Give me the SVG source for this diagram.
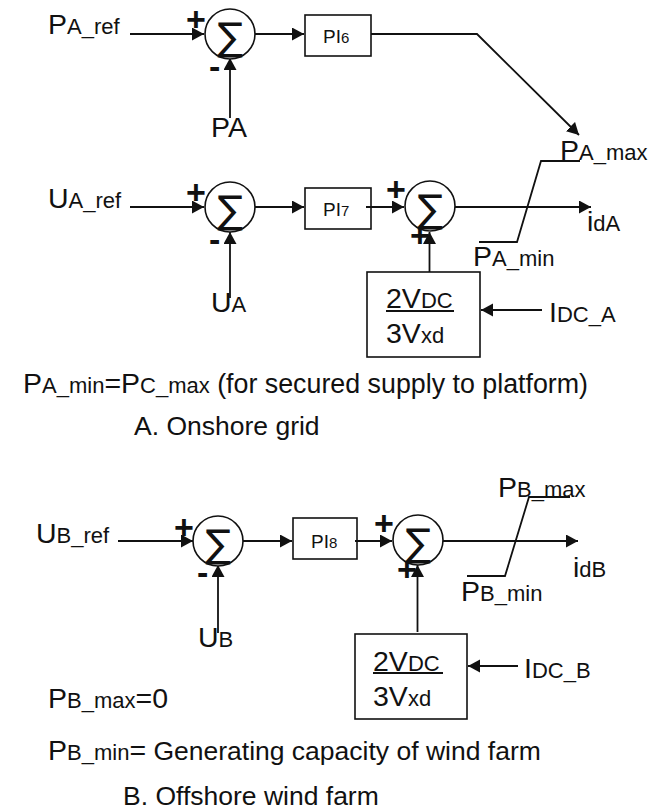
<svg xmlns="http://www.w3.org/2000/svg" width="658" height="811" viewBox="0 0 658 811">
<style>
text{font-family:"Liberation Sans",Arial,sans-serif;fill:#111}
.l{font-size:28.500px}.s{font-size:22px}.m{font-size:26.500px}.mm{font-size:26.800px}.pm{font-size:34px;font-weight:bold}
.sig{font-family:"DejaVu Sans",sans-serif;font-size:38px;text-anchor:middle}
.pi{font-size:19px}.sm{font-size:15px}
.c{fill:#fff;stroke:#111;stroke-width:1.6}
.b{fill:#fff;stroke:#111;stroke-width:1.6}
.w{fill:none;stroke:#111;stroke-width:1.8}
</style>
<defs>
<marker id="a" markerUnits="userSpaceOnUse" markerWidth="13" markerHeight="14" refX="12" refY="6.500" orient="auto"><path d="M0 0L12 6.500L0 13Z" fill="#111"/></marker>
</defs>
<g id="connectors">
<path class="w" marker-end="url(#a)" d="M130 34H204"/>
<path class="w" marker-end="url(#a)" d="M255 34H304"/>
<path class="w" marker-end="url(#a)" d="M230 118V58"/>
<path class="w" marker-end="url(#a)" d="M371 34H477L579 135"/>
<path class="w" marker-end="url(#a)" d="M130 207H204"/>
<path class="w" marker-end="url(#a)" d="M255 207H304"/>
<path class="w" marker-end="url(#a)" d="M230 298V232"/>
<path class="w" d="M479 242H517L541 161H580"/>
<path class="w" d="M467 576H505L529 497H570"/>
<path class="w" marker-end="url(#a)" d="M118 541H193"/>
<path class="w" marker-end="url(#a)" d="M243 541H292"/>
<path class="w" marker-end="url(#a)" d="M218 633V565"/>
</g>
<g id="sum1"><circle class="c" cx="230" cy="34" r="25"/><text class="sig" x="230" y="50">∑</text><text class="pm" x="186" y="31">+</text><text class="pm" x="209" y="78">-</text></g>
<g id="pi6"><rect class="b" x="305" y="15" width="66" height="41"/><text class="pi" x="323" y="43">PI<tspan class="sm">6</tspan></text></g>
<g id="sum2"><circle class="c" cx="230" cy="207" r="25"/><text class="sig" x="230" y="223">∑</text><text class="pm" x="186" y="204">+</text><text class="pm" x="209" y="251">-</text></g>
<g id="pi7"><rect class="b" x="305" y="188" width="66" height="41"/><text class="pi" x="323" y="216">PI<tspan class="sm">7</tspan></text></g>
<g id="sum3"><circle class="c" cx="430" cy="206" r="25"/><text class="sig" x="430" y="222">∑</text><text class="pm" x="386" y="201">+</text><text class="pm" x="410" y="247">+</text></g>
<g id="gainA"><rect class="b" x="367" y="272" width="113" height="85"/><text x="386" y="308"><tspan class="l">2V</tspan><tspan class="s">DC</tspan></text><path class="w" d="M386 311H454"/><text x="386" y="343"><tspan class="l">3V</tspan><tspan class="s">xd</tspan></text></g>
<g id="sum4"><circle class="c" cx="218" cy="541" r="25"/><text class="sig" x="218" y="557">∑</text><text class="pm" x="174" y="539">+</text><text class="pm" x="197" y="584">-</text></g>
<g id="pi8"><rect class="b" x="293" y="518" width="64" height="41"/><text class="pi" x="311" y="548">PI<tspan class="sm">8</tspan></text></g>
<g id="sum5"><circle class="c" cx="418" cy="540" r="25"/><text class="sig" x="418" y="556">∑</text><text class="pm" x="374" y="535">+</text><text class="pm" x="397" y="581">+</text></g>
<g id="gainB"><rect class="b" x="355" y="634" width="112" height="85"/><text x="373" y="671"><tspan class="l">2V</tspan><tspan class="s">DC</tspan></text><path class="w" d="M373 673H443"/><text x="373" y="706"><tspan class="l">3V</tspan><tspan class="s">xd</tspan></text></g>
<g id="connectors2">
<path class="w" marker-end="url(#a)" d="M366 207H404"/>
<path class="w" marker-end="url(#a)" d="M455 207H591"/>
<path class="w" marker-end="url(#a)" d="M429.500 272V232"/>
<path class="w" marker-end="url(#a)" d="M542 310H481"/>
<path class="w" marker-end="url(#a)" d="M355 541H392"/>
<path class="w" marker-end="url(#a)" d="M443 541H578"/>
<path class="w" marker-end="url(#a)" d="M417.500 632V565"/>
<path class="w" marker-end="url(#a)" d="M518 666H468"/>
</g>
<g id="labels">
<text x="48" y="34"><tspan class="l">P</tspan><tspan class="s">A_ref</tspan></text>
<text x="211" y="137" class="l">PA</text>
<text x="48" y="208"><tspan class="l">U</tspan><tspan class="s">A_ref</tspan></text>
<text x="211" y="312"><tspan class="l">U</tspan><tspan class="s">A</tspan></text>
<text x="560" y="160"><tspan class="l">P</tspan><tspan class="s">A_max</tspan></text>
<text x="587" y="231"><tspan class="l">i</tspan><tspan class="s">dA</tspan></text>
<text x="473" y="266"><tspan class="l">P</tspan><tspan class="s">A_min</tspan></text>
<text x="549" y="322"><tspan class="l">I</tspan><tspan class="s">DC_A</tspan></text>
<text x="23" y="393"><tspan class="l">P</tspan><tspan class="s">A_min</tspan><tspan class="l">=P</tspan><tspan class="s">C_max</tspan><tspan class="mm"> (for secured supply to platform)</tspan></text>
<text class="m" x="134" y="435">A. Onshore grid</text>
<text x="36" y="543"><tspan class="l">U</tspan><tspan class="s">B_ref</tspan></text>
<text x="198" y="647"><tspan class="l">U</tspan><tspan class="s">B</tspan></text>
<text x="498" y="497"><tspan class="l">P</tspan><tspan class="s">B_max</tspan></text>
<text x="573" y="577"><tspan class="l">i</tspan><tspan class="s">dB</tspan></text>
<text x="461" y="601"><tspan class="l">P</tspan><tspan class="s">B_min</tspan></text>
<text x="524" y="678"><tspan class="l">I</tspan><tspan class="s">DC_B</tspan></text>
<text x="48" y="708"><tspan class="l">P</tspan><tspan class="s">B_max</tspan><tspan class="l">=0</tspan></text>
<text x="48" y="760"><tspan class="l">P</tspan><tspan class="s">B_min</tspan><tspan class="l">=</tspan><tspan class="m"> Generating capacity of wind farm</tspan></text>
<text class="m" x="123" y="805">B. Offshore wind farm</text>
</g>
</svg>
